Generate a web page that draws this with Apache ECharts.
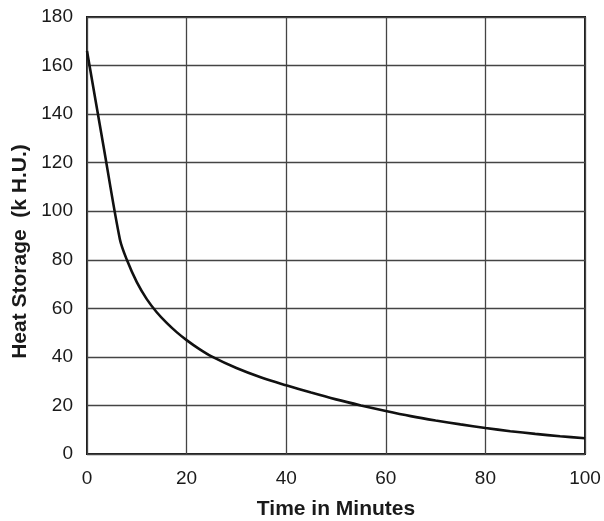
<!DOCTYPE html>
<html>
<head>
<meta charset="utf-8">
<script src="https://cdn.jsdelivr.net/npm/echarts@6/dist/echarts.min.js"></script>
<style>
  html, body { margin: 0; padding: 0; background: #fff; }
  #chart { width: 604px; height: 521px; }
</style>
</head>
<body>
<div id="chart"></div>
<script>
// heat storage decay curve
var minutes = [0, 3.3, 6.6, 8, 10, 12, 14, 16, 18, 20, 22.5, 25, 30, 35, 40, 45, 50, 55, 60, 65, 70, 75, 80, 85, 90, 95, 100];
var heatKHU = [166, 127, 88.5, 80, 70.8, 63.8, 58.4, 54, 50.2, 46.9, 43.3, 40.2, 35.4, 31.5, 28.3, 25.3, 22.5, 20, 17.7, 15.6, 13.8, 12.2, 10.7, 9.4, 8.3, 7.3, 6.5];

var xTicks = [0, 20, 40, 60, 80, 100];
var yTicks = [0, 20, 40, 60, 80, 100, 120, 140, 160, 180];

var points = minutes.map(function (t, i) { return [t, heatKHU[i]]; });

var chart = echarts.init(document.getElementById('chart'));
var option = {
    animation: false,
    grid: {
        left: 87, right: 19, top: 17, bottom: 67,
        outerBoundsMode: 'none',
        containLabel: false,
        show: true,
        borderColor: '#1a1a1a',
        borderWidth: 2
    },
    xAxis: {
        type: 'value',
        min: xTicks[0], max: xTicks[xTicks.length - 1], interval: 20,
        name: 'Time in Minutes',
        nameLocation: 'middle',
        nameGap: 45,
        nameTextStyle: { fontFamily: 'Liberation Sans', fontSize: 21, fontWeight: 'bold', color: '#1a1a1a' },
        axisLine: { show: false },
        axisTick: { show: false },
        axisLabel: { fontFamily: 'Liberation Sans', fontSize: 19, color: '#1a1a1a', margin: 15 },
        splitLine: { show: true, lineStyle: { color: '#444', width: 1.3 } }
    },
    yAxis: {
        type: 'value',
        min: yTicks[0], max: yTicks[yTicks.length - 1], interval: 20,
        name: 'Heat Storage  (k H.U.)',
        nameLocation: 'middle',
        nameGap: 56,
        nameTextStyle: { fontFamily: 'Liberation Sans', fontSize: 21, fontWeight: 'bold', color: '#1a1a1a', padding: [0, 32, 0, 0] },
        axisLine: { show: false },
        axisTick: { show: false },
        axisLabel: { fontFamily: 'Liberation Sans', fontSize: 19, color: '#1a1a1a', margin: 14 },
        splitLine: { show: true, lineStyle: { color: '#444', width: 1.3 } }
    },
    series: [{
        type: 'line',
        data: points,
        showSymbol: false,
        smooth: 0.3,
        lineStyle: { color: '#111', width: 2.6 }
    }]
};
chart.setOption(option);
</script>
</body>
</html>
